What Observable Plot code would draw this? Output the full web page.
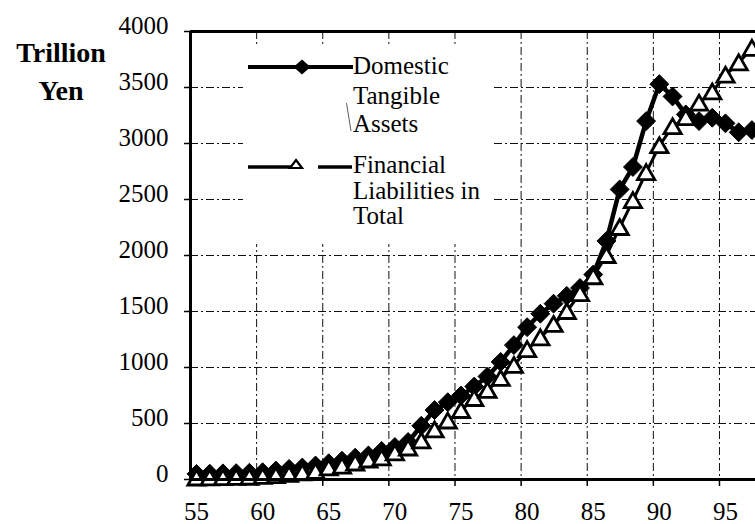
<!DOCTYPE html>
<html><head><meta charset="utf-8">
<script src="https://cdn.jsdelivr.net/npm/d3@7"></script>
<script src="https://cdn.jsdelivr.net/npm/@observablehq/plot@0.6"></script>
<style>
html,body{margin:0;padding:0;background:#fff;overflow:hidden}
#chart svg{display:block}
</style></head><body><div id="chart"></div>
<script>
const years = [55,56,57,58,59,60,61,62,63,64,65,66,67,68,69,70,71,72,73,74,75,76,77,78,79,80,81,82,83,84,85,86,87,88,89,90,91,92,93,94,95,96,97];
const tangible = [50,52,55,57,60,65,80,95,107,125,145,168,195,215,255,290,335,480,620,690,750,830,920,1050,1200,1360,1480,1570,1640,1710,1830,2130,2590,2790,3200,3530,3420,3260,3200,3230,3180,3100,3120];
const financial = [13,14,16,18,20,27,34,45,60,72,103,120,147,174,192,237,281,344,442,522,616,723,795,902,1018,1160,1265,1385,1500,1660,1810,2000,2250,2490,2740,2980,3150,3230,3360,3460,3610,3720,3850];
const xTicks = [55,60,65,70,75,80,85,90,95];
const yTicks = [0,500,1000,1500,2000,2500,3000,3500,4000];
const gridX = [60,65,70,75,80,85,90,95];
const gridY = [500,1000,1500,2000,2500,3000,3500];
const legend1 = ["Domestic","Tangible","Assets"];
const legend2 = ["Financial","Liabilities in","Total"];
const unitLabel = ["Trillion","Yen"];

const rows = years.map((yr, i) => ({year: yr, tangible: tangible[i], financial: financial[i]}));
const xMin = 54.546, xMax = 97.27;
const dash = "8,3,2,3";
const F = "Liberation Serif, Times New Roman, serif";

const chart = Plot.plot({
  width: 755, height: 524,
  marginLeft: 190, marginRight: 0, marginTop: 31, marginBottom: 45,
  x: {domain: [xMin, xMax], axis: null, label: null},
  y: {domain: [0, 4000], axis: null, label: null},
  style: {fontFamily: F, background: "white", color: "black"},
  marks: [
    Plot.ruleX(gridX, {x: d => d, dx: -6, stroke: "#111", strokeWidth: 1, strokeDasharray: dash}),
    Plot.ruleY(gridY, {y: d => d, stroke: "#111", strokeWidth: 1, strokeDasharray: dash}),
    Plot.axisY({ticks: yTicks, tickSize: 6, tickFormat: () => "", anchor: "left", label: null, strokeWidth: 1.5}),
    Plot.axisX({ticks: xTicks, tickSize: 7, tickFormat: () => "", anchor: "bottom", label: null, dx: -6, strokeWidth: 1.5}),
    Plot.text(yTicks, {y: d => d, text: d => String(d), frameAnchor: "left", dx: -22, dy: -6, textAnchor: "end", fontSize: 25, fill: "black"}),
    Plot.text(xTicks, {x: d => d, text: d => String(d), frameAnchor: "bottom", dy: 32, lineAnchor: "middle", fontSize: 25, fill: "black"}),
    Plot.line(rows, {x: "year", y: "tangible", stroke: "black", strokeWidth: 4.5, strokeLinejoin: "round"}),
    Plot.dot(rows, {x: "year", y: "tangible", symbol: "diamond2", r: 8.5, fill: "black", stroke: "black", strokeWidth: 1}),
    Plot.line(rows, {x: "year", y: "financial", stroke: "black", strokeWidth: 3, strokeLinejoin: "round"}),
    Plot.dot(rows, {x: "year", y: "financial", symbol: "triangle", r: 6.4, fill: "white", stroke: "black", strokeWidth: 2.8, dy: 2}),
    Plot.ruleX([xMin], {stroke: "black", strokeWidth: 3}),
    Plot.ruleY([0], {stroke: "black", strokeWidth: 3}),
    Plot.ruleY([4000], {stroke: "black", strokeWidth: 3})
  ]
});
document.getElementById("chart").appendChild(chart);

// Legend and unit label (annotation, drawn on top)
const svg = d3.select(chart);
const g = svg.append("g").attr("font-family", F).attr("fill", "black").attr("text-anchor", "start");
g.append("rect").attr("x", 243).attr("y", 44).attr("width", 248).attr("height", 200).attr("fill", "white");
g.append("line").attr("x1", 248).attr("x2", 353).attr("y1", 67).attr("y2", 67).attr("stroke", "black").attr("stroke-width", 4);
g.append("path").attr("d", "M302,59.5L310.5,67L302,74.5L293.5,67Z").attr("fill", "black");
g.append("line").attr("x1", 248).attr("x2", 291).attr("y1", 167).attr("y2", 167).attr("stroke", "black").attr("stroke-width", 3.5);
g.append("line").attr("x1", 318).attr("x2", 352).attr("y1", 167).attr("y2", 167).attr("stroke", "black").attr("stroke-width", 3.5);
g.append("path").attr("d", "M296,160L302,168L290,168Z").attr("fill", "white").attr("stroke", "black").attr("stroke-width", 2.2).attr("stroke-linejoin", "miter");
g.append("line").attr("x1", 346.5).attr("x2", 351).attr("y1", 103).attr("y2", 131).attr("stroke", "#333").attr("stroke-width", 0.8);
const base1 = [74, 104, 132], base2 = [173, 199, 224];
legend1.forEach((t, i) => g.append("text").attr("x", 353).attr("y", base1[i]).attr("text-anchor", "start").attr("font-size", 25).text(t));
legend2.forEach((t, i) => g.append("text").attr("x", 353).attr("y", base2[i]).attr("text-anchor", "start").attr("font-size", 25).text(t));
const ub = [62, 100];
unitLabel.forEach((t, i) => g.append("text").attr("x", 61).attr("y", ub[i]).attr("text-anchor", "middle").attr("font-size", 28).attr("font-weight", "bold").text(t));
</script></body></html>
